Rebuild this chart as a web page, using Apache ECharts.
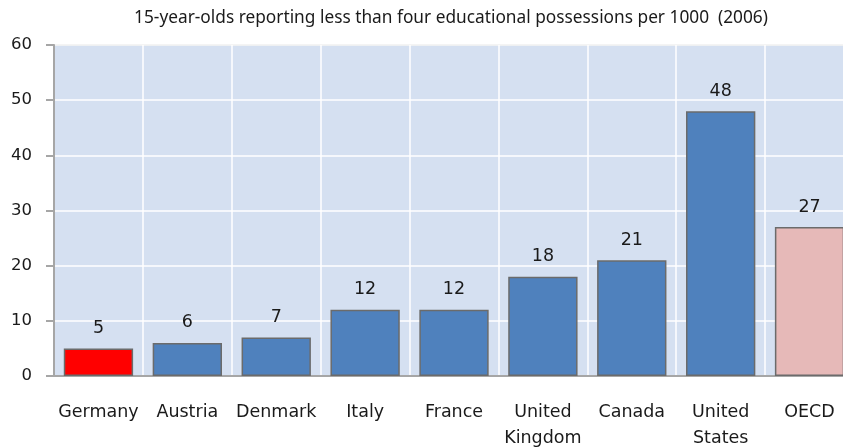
<!DOCTYPE html>
<html>
<head>
<meta charset="utf-8">
<script src="https://cdn.jsdelivr.net/npm/echarts@6/dist/echarts.min.js"></script>
<style>
  html, body { margin: 0; padding: 0; background: #fff; }
  #chart { width: 843px; height: 448px; }
</style>
</head>
<body>
<div id="chart"></div>
<script>
var countries = ['Germany', 'Austria', 'Denmark', 'Italy', 'France', 'United\nKingdom', 'Canada', 'United\nStates', 'OECD'];
var perThousand = [5, 6, 7, 12, 12, 18, 21, 48, 27];
var barColors = ['#ff0000', '#4f81bd', '#4f81bd', '#4f81bd', '#4f81bd', '#4f81bd', '#4f81bd', '#4f81bd', '#e6b9b8'];

var chart = echarts.init(document.getElementById('chart'), null, {renderer: 'canvas'});

var option = {
    animation: false,
    title: {
        text: '15-year-olds reporting less than four educational possessions per 1000  (2006)',
        left: 446,
        top: 5,
        textAlign: 'center',
        textStyle: {
            fontFamily: 'Noto Sans',
            fontSize: 17.3,
            fontWeight: 'normal',
            color: '#1a1a1a'
        }
    },
    grid: {
        left: 54,
        width: 800,
        top: 45,
        bottom: 72,
        outerBoundsMode: 'none',
        containLabel: false,
        show: true,
        backgroundColor: '#d5e0f1',
        borderColor: '#a6a6a6',
        borderWidth: 1
    },
    xAxis: {
        type: 'category',
        data: countries,
        axisLine: { lineStyle: { color: '#a6a6a6', width: 2 } },
        axisTick: { show: false },
        splitLine: { show: true, lineStyle: { color: '#ffffff', width: 1.5 } },
        axisLabel: {
            margin: 23,
            interval: 0,
            fontFamily: 'DejaVu Sans',
            fontSize: 17.5,
            lineHeight: 26,
            color: '#1a1a1a'
        }
    },
    yAxis: {
        type: 'value',
        min: 0,
        max: 60,
        interval: 10,
        axisLine: { show: true, lineStyle: { color: '#a6a6a6', width: 2 } },
        axisTick: { show: true, length: 8, lineStyle: { color: '#a6a6a6', width: 2 } },
        splitLine: { show: true, lineStyle: { color: '#ffffff', width: 1.5 } },
        axisLabel: {
            margin: 22,
            fontFamily: 'DejaVu Sans',
            fontSize: 16.5,
            color: '#1a1a1a'
        }
    },
    series: [
        {
            type: 'bar',
            barCategoryGap: '22%',
            data: perThousand.map(function (v, i) {
                return { value: v, itemStyle: { color: barColors[i] } };
            }),
            itemStyle: { borderColor: '#6b6b6b', borderWidth: 1.5 },
            label: {
                show: true,
                position: 'top',
                distance: 11,
                fontFamily: 'DejaVu Sans',
                fontSize: 17.5,
                color: '#1a1a1a'
            }
        }
    ]
};

chart.setOption(option);
</script>
</body>
</html>
